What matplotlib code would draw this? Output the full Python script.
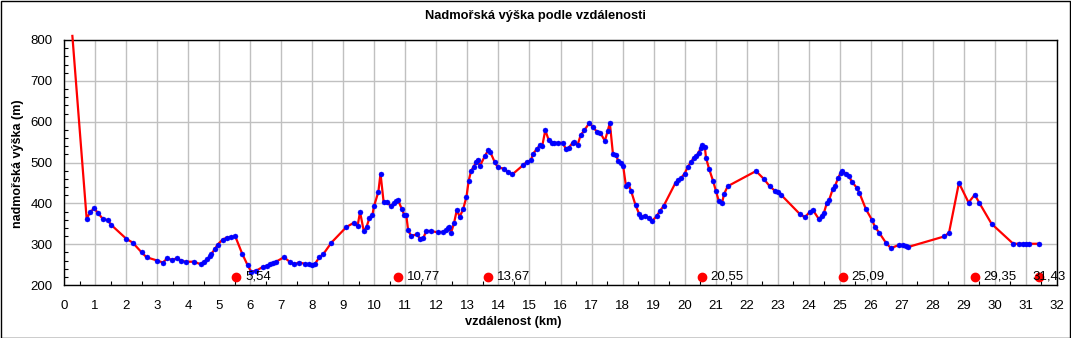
import matplotlib
matplotlib.use("Agg")
import matplotlib.pyplot as plt
from matplotlib.patches import Rectangle
from matplotlib.ticker import MultipleLocator

plt.rcParams['font.family'] = ['Liberation Sans', 'DejaVu Sans']

# distance along route (km)
dist_km = [0.27, 0.73, 0.84, 0.97, 1.09, 1.26, 1.41, 1.51, 2.01, 2.21, 2.50, 2.66,
           3.00, 3.19, 3.32, 3.47, 3.64, 3.77, 3.92, 4.19, 4.40, 4.51, 4.62, 4.69,
           4.75, 4.86, 4.95, 5.11, 5.24, 5.37, 5.52, 5.74, 5.92, 6.03, 6.19, 6.40,
           6.55, 6.64, 6.74, 6.83, 7.09, 7.27, 7.41, 7.58, 7.76, 7.89, 7.98, 8.08,
           8.23, 8.35, 8.62, 9.10, 9.33, 9.46, 9.54, 9.66, 9.75, 9.84, 9.94, 9.99,
           10.13, 10.20, 10.30, 10.41, 10.53, 10.63, 10.71, 10.77, 10.89, 10.97, 11.03, 11.09,
           11.18, 11.39, 11.47, 11.58, 11.67, 11.84, 12.04, 12.20, 12.31, 12.38, 12.42, 12.47,
           12.57, 12.66, 12.75, 12.86, 12.97, 13.04, 13.12, 13.20, 13.28, 13.33, 13.40, 13.57,
           13.67, 13.74, 13.88, 13.98, 14.18, 14.31, 14.45, 14.79, 14.91, 15.05, 15.11, 15.24,
           15.33, 15.41, 15.51, 15.62, 15.71, 15.80, 15.93, 16.07, 16.17, 16.26, 16.39, 16.45,
           16.55, 16.65, 16.77, 16.93, 17.04, 17.18, 17.28, 17.43, 17.52, 17.59, 17.69, 17.79,
           17.86, 17.96, 18.02, 18.11, 18.19, 18.28, 18.42, 18.53, 18.61, 18.71, 18.85, 18.96,
           19.10, 19.21, 19.32, 19.71, 19.79, 19.88, 20.00, 20.10, 20.21, 20.29, 20.37, 20.45,
           20.52, 20.57, 20.65, 20.69, 20.79, 20.92, 21.01, 21.10, 21.21, 21.27, 21.39, 22.30,
           22.55, 22.74, 22.92, 23.02, 23.12, 23.71, 23.88, 24.03, 24.13, 24.33, 24.42, 24.49,
           24.58, 24.65, 24.77, 24.85, 24.94, 25.03, 25.08, 25.19, 25.29, 25.39, 25.55, 25.63,
           25.84, 26.04, 26.13, 26.27, 26.49, 26.65, 26.90, 27.04, 27.14, 27.20, 28.37, 28.52,
           28.84, 29.15, 29.35, 29.49, 29.89, 30.59, 30.78, 30.90, 31.00, 31.10, 31.43]

# altitude (m)
alt_m = [810, 362, 378, 388, 377, 361, 359, 348, 313, 304, 280, 268,
         260, 255, 265, 262, 265, 260, 257, 257, 251, 257, 263, 270,
         276, 288, 299, 311, 316, 317, 319, 277, 248, 233, 235, 244,
         247, 251, 254, 257, 268, 257, 251, 255, 252, 251, 248, 251,
         268, 275, 304, 342, 352, 344, 379, 332, 342, 364, 372, 393,
         428, 473, 403, 403, 393, 400, 405, 407, 385, 371, 371, 334,
         321, 324, 313, 315, 332, 332, 329, 330, 334, 339, 343, 327,
         352, 384, 367, 385, 416, 455, 480, 489, 502, 507, 491, 517,
         530, 525, 501, 488, 485, 476, 471, 493, 501, 506, 521, 533,
         542, 540, 579, 555, 548, 548, 548, 548, 534, 536, 548, 550,
         543, 567, 579, 597, 587, 575, 573, 553, 577, 597, 521, 519,
         503, 498, 491, 442, 447, 429, 395, 375, 366, 370, 364, 357,
         369, 382, 393, 451, 457, 461, 473, 489, 502, 511, 516, 524,
         536, 543, 539, 511, 484, 454, 430, 406, 402, 423, 442, 479,
         460, 442, 430, 428, 420, 374, 366, 379, 384, 361, 370, 377,
         400, 407, 434, 443, 461, 475, 479, 473, 467, 453, 438, 426,
         386, 359, 343, 328, 303, 290, 298, 298, 295, 293, 319, 328,
         450, 402, 421, 402, 350, 301, 301, 301, 301, 301, 301]

# marked waypoints
mark_km = [5.54, 10.77, 13.67, 20.55, 25.09, 29.35, 31.43]
mark_labels = ["5,54", "10,77", "13,67", "20,55", "25,09", "29,35", "31,43"]
mark_alt = 220

title = "Nadmořská výška podle vzdálenosti"
xlabel = "vzdálenost (km)"
ylabel = "nadmořská výška (m)"

W, H = 1071, 338
fig = plt.figure(figsize=(W / 100, H / 100), dpi=100)
fig.patch.set_facecolor("white")
ax = fig.add_axes([64 / W, 1 - 285 / H, (1057 - 64) / W, (285 - 40) / H])

ax.set_xlim(0, 32)
ax.set_ylim(200, 800)
ax.xaxis.set_major_locator(MultipleLocator(1))
ax.xaxis.set_minor_locator(MultipleLocator(0.5))
ax.yaxis.set_major_locator(MultipleLocator(100))
ax.yaxis.set_minor_locator(MultipleLocator(20))
ax.grid(True, which="major", color="#c0c0c0", linewidth=1.0)
ax.set_axisbelow(True)
ax.tick_params(which="major", direction="in", length=0, labelsize=9.5, colors="black")
ax.tick_params(axis="x", which="major", pad=11)
ax.tick_params(axis="y", which="major", pad=8)
ax.tick_params(which="minor", direction="in", length=3, width=0.8,
               top=False, right=False)
for s in ax.spines.values():
    s.set_color("black")
    s.set_linewidth(1.0)

ax.plot(dist_km, alt_m, color="#ff0000", linewidth=1.6, zorder=3, clip_on=False)
ax.plot(dist_km[1:], alt_m[1:], linestyle="none", marker="o", markersize=3.6,
        markerfacecolor="#0000ff", markeredgecolor="#0000ff", markeredgewidth=0.3,
        zorder=4)

ax.plot(mark_km, [mark_alt] * len(mark_km), linestyle="none", marker="o",
        markersize=6, color="#ff0000", zorder=5)
for i, (xk, lab) in enumerate(zip(mark_km, mark_labels)):
    if i == len(mark_km) - 1:
        ax.annotate(lab, (32, mark_alt), xytext=(6, 0), textcoords="offset points",
                    ha="right", va="center", fontsize=9.5, zorder=6)
    else:
        ax.annotate(lab, (xk, mark_alt), xytext=(6.5, 0), textcoords="offset points",
                    ha="left", va="center", fontsize=9.5, zorder=6)

fig.text(535.5 / W, 1 - 16 / H, title, ha="center", va="center",
         fontsize=9.3, fontweight="bold")
fig.text(513 / W, 1 - 322 / H, xlabel, ha="center", va="center",
         fontsize=9.2, fontweight="bold")
fig.text(18 / W, 1 - 164 / H, ylabel, ha="center", va="center", rotation=90,
         fontsize=9, fontweight="bold")

fig.add_artist(Rectangle((0.5 / W, 0.5 / H), (W - 1.5) / W, (H - 1.5) / H,
                         transform=fig.transFigure, fill=False,
                         edgecolor="black", linewidth=1.0))

fig.savefig("out.png", dpi=100)
